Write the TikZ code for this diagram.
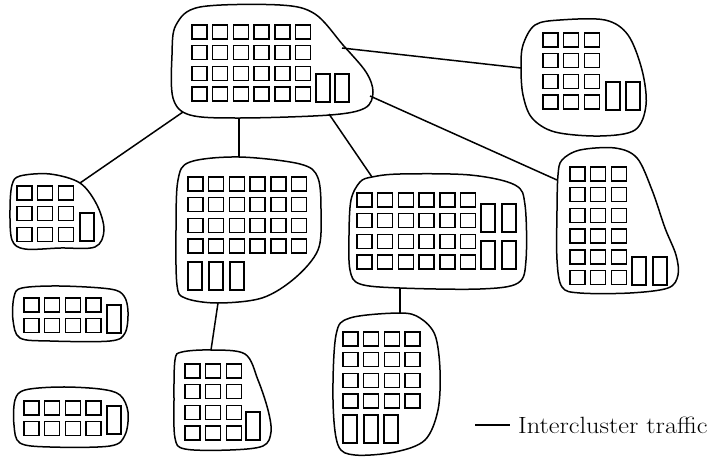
\documentclass[tikz,border=0pt]{standalone}
\usepackage{xcolor}
\usepackage{tikz}
\usetikzlibrary{positioning}

% one cluster of rooms: x, y, columns, rows
\newcommand{\rooms}[4]{%
  \foreach \c in {1,...,#3}
    \foreach \r in {1,...,#4}
      \draw[room] ({#1+(\c-1)*20.7},{#2+(\r-1)*20.7}) rectangle ++(15,14);%
}
\newcommand{\tallroom}[2]{\draw[room] (#1,#2) rectangle ++(14,28);}

\begin{document}
\begin{tikzpicture}[x=1pt, y=-1pt,
    blob/.style={line width=1.5pt, line join=round},
    room/.style={line width=1.4pt},
    link/.style={line width=1.5pt}]
  \useasboundingbox (0,0) rectangle (711,460);

  % outlines of the clusters
  \draw[blob] plot[smooth cycle, tension=0.55] coordinates {(176,25) (200,7) (280,5) (315,14) (343,45) (366,72) (373,92) (365,108) (330,115) (240,118) (190,115) (173,98) (172,55)};
  \draw[blob] plot[smooth cycle, tension=0.55] coordinates {(523,45) (535,25) (560,20) (605,20) (628,35) (642,70) (646,105) (635,130) (600,136) (555,132) (532,118) (523,95) (521,68)};
  \draw[blob] plot[smooth cycle, tension=0.55] coordinates {(12,185) (20,176) (50,174) (80,183) (97,205) (104,230) (95,247) (60,248) (25,249) (12,240) (10,210)};
  \draw[blob] plot[smooth cycle, tension=0.55] coordinates {(178,180) (190,162) (239,157) (300,164) (318,178) (321,215) (318,250) (295,278) (262,298) (217,303) (185,298) (177,285) (176,230)};
  \draw[blob] plot[smooth cycle, tension=0.55] coordinates {(351,200) (360,182) (372,177) (400,174) (470,175) (515,185) (525,205) (526,260) (518,283) (480,289) (400,288) (360,284) (350,270) (349,235)};
  \draw[blob] plot[smooth cycle, tension=0.55] coordinates {(558,175) (562,160) (580,150) (615,148) (637,158) (652,190) (665,228) (676,255) (678,275) (668,288) (630,293) (580,293) (562,287) (557,260) (557,210)};
  \draw[blob] plot[smooth cycle, tension=0.55] coordinates {(14,297) (22,288) (60,286) (110,289) (124,296) (128,312) (125,333) (110,341) (50,341) (20,338) (13,320)};
  \draw[blob] plot[smooth cycle, tension=0.55] coordinates {(15,400) (25,390) (60,387) (100,389) (120,395) (128,412) (125,435) (110,446) (50,447) (20,443) (14,425)};
  \draw[blob] plot[smooth cycle, tension=0.55] coordinates {(175,360) (182,352) (211,350) (245,354) (258,380) (268,410) (271,432) (263,446) (230,450) (185,449) (175,438) (174,400)};
  \draw[blob] plot[smooth cycle, tension=0.55] coordinates {(336,335) (350,318) (400,313) (420,318) (435,335) (440,370) (438,410) (425,440) (395,452) (355,455) (338,445) (333,400)};

  % rooms
  \rooms{192}{25}{6}{4}  \tallroom{316}{74} \tallroom{335}{74}
  \rooms{543}{33}{3}{4}  \tallroom{606}{82} \tallroom{626}{82}
  \rooms{17}{186}{3}{3}  \tallroom{80}{213}
  \rooms{188}{177}{6}{4} \tallroom{188}{262} \tallroom{209}{262} \tallroom{230}{262}
  \rooms{357}{193}{6}{4} \tallroom{481}{204} \tallroom{502}{204}
                         \tallroom{481}{241} \tallroom{502}{241}
  \rooms{570}{167}{3}{6} \tallroom{632}{257} \tallroom{653}{257}
  \rooms{24}{298}{4}{2}  \tallroom{107}{305}
  \rooms{24}{401}{4}{2}  \tallroom{107}{406}
  \rooms{185}{364}{3}{4} \tallroom{246}{412}
  \rooms{343}{332}{4}{4} \tallroom{343}{415} \tallroom{364}{415} \tallroom{384}{415}

  % where the links meet the outlines
  \coordinate (hub-b) at (342,48);
  \coordinate (hub-c) at (183,112);
  \coordinate (hub-d) at (239,118);
  \coordinate (hub-e) at (329,114);
  \coordinate (hub-f) at (370,96);
  \coordinate (east-in) at (521,68);
  \coordinate (west-in) at (80,183);
  \coordinate (mid-in) at (239,157);
  \coordinate (mid-out) at (218,303);
  \coordinate (centre-in) at (372,177);
  \coordinate (centre-out) at (400,288);
  \coordinate (far-in) at (557,180);
  \coordinate (low-in) at (211,350);
  \coordinate (base-in) at (400,313);

  \draw[link] (hub-b) -- (east-in);
  \draw[link] (hub-c) -- (west-in);
  \draw[link] (hub-d) -- (mid-in);
  \draw[link] (hub-e) -- (centre-in);
  \draw[link] (hub-f) -- (far-in);
  \draw[link] (mid-out) -- (low-in);
  \draw[link] (centre-out) -- (base-in);

  % legend
  \coordinate (key-l) at (475,425);
  \coordinate (key-r) at (510,425);
  \draw[link] (key-l) -- (key-r);
  \node[anchor=base west, inner sep=0pt, xscale=1.12, font=\fontsize{23.5}{28}\selectfont] (key) at (518,433) {Intercluster traffic};
\end{tikzpicture}
\end{document}
